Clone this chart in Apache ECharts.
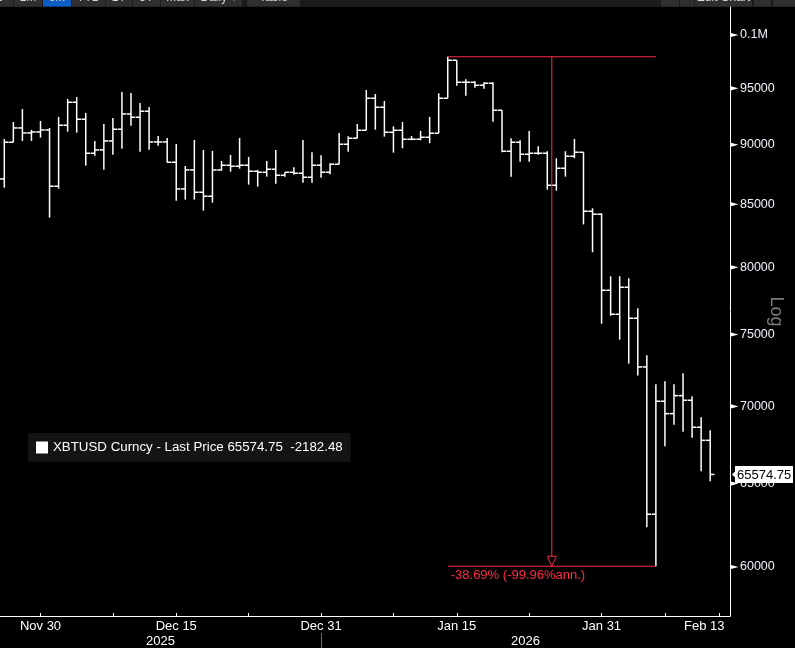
<!DOCTYPE html>
<html><head><meta charset="utf-8">
<script src="https://cdn.jsdelivr.net/npm/echarts@6/dist/echarts.min.js"></script>
<style>html,body{margin:0;padding:0;background:#000;overflow:hidden;} #c{width:795px;height:648px;}</style>
</head><body><div id="c"></div>
<script>
// ---- data (daily bars, Nov 26 2025 .. Feb 12 2026; axis runs to Feb 13) ----
const dates = [
 '2025-11-26','2025-11-27','2025-11-28','2025-11-29','2025-11-30',
 '2025-12-01','2025-12-02','2025-12-03','2025-12-04','2025-12-05','2025-12-06','2025-12-07','2025-12-08','2025-12-09','2025-12-10',
 '2025-12-11','2025-12-12','2025-12-13','2025-12-14','2025-12-15','2025-12-16','2025-12-17','2025-12-18','2025-12-19','2025-12-20',
 '2025-12-21','2025-12-22','2025-12-23','2025-12-24','2025-12-25','2025-12-26','2025-12-27','2025-12-28','2025-12-29','2025-12-30','2025-12-31',
 '2026-01-01','2026-01-02','2026-01-03','2026-01-04','2026-01-05','2026-01-06','2026-01-07','2026-01-08','2026-01-09','2026-01-10',
 '2026-01-11','2026-01-12','2026-01-13','2026-01-14','2026-01-15','2026-01-16','2026-01-17','2026-01-18','2026-01-19','2026-01-20',
 '2026-01-21','2026-01-22','2026-01-23','2026-01-24','2026-01-25','2026-01-26','2026-01-27','2026-01-28','2026-01-29','2026-01-30','2026-01-31',
 '2026-02-01','2026-02-02','2026-02-03','2026-02-04','2026-02-05','2026-02-06','2026-02-07','2026-02-08','2026-02-09','2026-02-10',
 '2026-02-11','2026-02-12','2026-02-13'
];
const opens = [87087,90210,91457,91019,91107,91282,86479,91695,93742,92225,
 89263,89546,90323,91343,92695,92402,92936,90236,90236,88494,
 86255,87843,85982,85652,87843,88240,88155,88240,87733,87649,
 87902,87397,87649,87565,87229,88240,87649,88325,90039,90557,
 91256,94103,93293,91081,91256,90471,90471,90644,90993,94103,
 97600,95560,95560,95285,95468,93025,89434,90210,89177,89263,
 89263,86562,87986,89006,89348,84427,84185,78260,76477,78486,
 76184,72704,63116,70349,69516,70728,70416,68614,67757.23];
const highs = [90497,91986,93141,91282,92074,91457,92429,94040,94221,92784,
 90323,91809,92340,94674,94583,93679,93320,90758,90583,90063,
 88181,90410,89546,89460,88605,89117,90583,88946,87843,88605,
 89546,87649,88071,90410,89348,89091,88410,91019,90731,91809,
 94856,94493,93860,91607,91986,90758,91194,92429,94556,97930,
 97600,95836,95652,95560,95560,93025,90557,90384,91194,89864,
 89434,88835,89434,90497,89348,84671,84265,79319,79319,79167,
 76919,73526,71507,71713,71507,72266,70687,69276,68417];
const lows = [86362,90210,90323,90323,90610,83910,86279,91133,91046,88206,
 89057,87868,89143,89658,91660,89400,89572,89916,88460,85291,
 85373,85373,84476,85127,87784,87699,87952,86612,86445,87279,
 86695,87279,87447,86778,86778,87196,87481,88325,89400,90557,
 91256,91308,90697,89314,89692,90384,90384,90124,90993,94103,
 95249,94338,95066,94975,92012,89348,87279,88545,88545,89143,
 86197,86114,87279,88835,83364,81168,75790,76375,74635,72935,
 72113,62333,60040,67374,68785,68325,67932,65776,65147];
const closes = [90210,91457,91019,91107,91282,86479,91695,93742,92225,89263,
 89546,90323,91343,92695,92402,92936,90236,90236,88494,86255,
 87843,85982,85652,87843,88240,88155,88240,87733,87649,87902,
 87397,87649,87565,87229,88240,87649,88325,90039,90557,91256,
 94103,93293,91081,91256,90471,90471,90644,90993,94103,97600,
 95560,95560,95285,95468,93025,89434,90210,89177,89263,89263,
 86562,87986,89006,89348,84427,84185,78260,76477,78486,76184,
 72704,63116,70349,69516,70728,70416,68614,67757.23,65574.75];
const yTickValues = [60000,65000,70000,75000,80000,85000,90000,95000,100000];
const xLabelDates = ['2025-11-30','2025-12-15','2025-12-31','2026-01-15','2026-01-31','2026-02-13'];
const xTickDates = ['2025-11-30','2025-12-08','2025-12-15','2025-12-23','2025-12-31','2026-01-08','2026-01-15','2026-01-23','2026-01-31','2026-02-07','2026-02-13'];
const yearSplitDate = '2025-12-31';
const seriesName = 'XBTUSD Curncy - Last Price';
const measureText = '-38.69% (-99.96%ann.)';

// ---- layout / config ----
const FONT = "'Liberation Sans', Arial, sans-serif";
const RED = '#ff2a44';
const X_MIN = -0.475, X_MAX = 80.19;
const Y_MIN = Math.log(57240), Y_MAX = Math.log(102720);
const MON = ['Jan','Feb','Mar','Apr','May','Jun','Jul','Aug','Sep','Oct','Nov','Dec'];
function fmtDate(s){ const p = s.split('-'); return MON[+p[1]-1] + ' ' + (+p[2]); }

const ohlcData = closes.map((c, i) => [i, Math.log(opens[i]), Math.log(highs[i]), Math.log(lows[i]), Math.log(c)]);
const xLabelIdx = xLabelDates.map(d => dates.indexOf(d));
const xTickIdx = xTickDates.map(d => dates.indexOf(d));
const splitIdx = dates.indexOf(yearSplitDate);
const lastIdxLabel = xLabelIdx[xLabelIdx.length - 1];
const last = closes[closes.length - 1];
const change = last - closes[closes.length - 2];

const hiIdx = highs.indexOf(Math.max(...highs));
const loIdx = lows.indexOf(Math.min(...lows));

function renderOHLC(params, api) {
  const i = api.value(0);
  const o = api.coord([i, api.value(1)]);
  const h = api.coord([i, api.value(2)]);
  const l = api.coord([i, api.value(3)]);
  const c = api.coord([i, api.value(4)]);
  const w = api.size([1, 0])[0] * 0.47;
  const x = o[0];
  const st = { stroke: '#ffffff', lineWidth: 1.5 };
  return { type: 'group', children: [
    { type: 'line', shape: { x1: x, y1: h[1], x2: x, y2: l[1] }, style: st },
    { type: 'line', shape: { x1: x - w, y1: o[1], x2: x, y2: o[1] }, style: st },
    { type: 'line', shape: { x1: x, y1: c[1], x2: x + w, y2: c[1] }, style: st }
  ]};
}

function renderMeasure(params, api) {
  const a = api.coord([api.value(0), api.value(2)]);
  const b = api.coord([api.value(1), api.value(2)]);
  const c = api.coord([api.value(0), api.value(3)]);
  const d = api.coord([api.value(1), api.value(3)]);
  const mx = (a[0] + b[0]) / 2;
  const by = c[1];
  return { type: 'group', children: [
    { type: 'line', shape: { x1: a[0], y1: a[1], x2: b[0], y2: b[1] }, style: { stroke: RED, lineWidth: 1.2 } },
    { type: 'line', shape: { x1: c[0], y1: c[1], x2: d[0], y2: d[1] }, style: { stroke: RED, lineWidth: 1.2 } },
    { type: 'line', shape: { x1: mx, y1: a[1], x2: mx, y2: by - 10 }, style: { stroke: RED, lineWidth: 1 } },
    { type: 'polygon', shape: { points: [[mx - 4.5, by - 10], [mx + 4.5, by - 10], [mx, by]] }, style: { stroke: RED, fill: 'none', lineWidth: 1 } },
    { type: 'text', x: c[0] + 3, y: by + 3, style: { text: measureText, fill: RED, font: '13px ' + FONT, textAlign: 'left', textVerticalAlign: 'top' } }
  ]};
}

function renderTickMark(params, api) {
  const p = api.coord([X_MAX, api.value(0)]);
  return { type: 'polygon', shape: { points: [[p[0], p[1] - 2.3], [p[0], p[1] + 2.3], [p[0] + 8.5, p[1]]] }, style: { fill: '#ffffff' } };
}

function renderLast(params, api) {
  const p = api.coord([X_MAX, api.value(0)]);
  const x0 = p[0] + 5, y0 = p[1];
  return { type: 'group', children: [
    { type: 'polygon', shape: { points: [[p[0] + 2, y0], [x0 + 1, y0 - 4], [x0 + 1, y0 + 4]] }, style: { fill: '#ffffff' } },
    { type: 'rect', shape: { x: x0, y: y0 - 8.5, width: 58, height: 17 }, style: { fill: '#ffffff' } },
    { type: 'text', x: x0 + 2, y: y0 + 0.5, style: { text: last.toFixed(2), fill: '#000', font: '13px ' + FONT, textAlign: 'left', textVerticalAlign: 'middle' } }
  ]};
}

// toolbar remnants at top (cut off)
const tb = [];
tb.push({ type: 'rect', shape: { x: 0, y: 0, width: 795, height: 7 }, style: { fill: '#1b1b1b' }, silent: true });
const btns = [[-20,13,'1D'],[14,42,'1M'],[43,71,'6M'],[72,105,'YTD'],[106,132,'1Y'],[133,160,'5Y'],[161,194,'Max'],[195,242,'Daily ▾'],[247,300,'Table']];
btns.forEach(b => {
  tb.push({ type: 'rect', shape: { x: b[0], y: 0, width: b[1] - b[0], height: 6.5 }, style: { fill: b[2] === '6M' ? '#0d5fc6' : '#2f2f2f' }, silent: true });
  tb.push({ type: 'text', x: (b[0] + b[1]) / 2, y: -8, style: { text: b[2], fill: '#d8d8d8', font: '12px ' + FONT, textAlign: 'center', textVerticalAlign: 'top' }, silent: true });
});
[[661,679,'«'],[680,694,''],[695,752,'Edit Chart'],[754,771,''],[773,795,'']].forEach(b => {
  tb.push({ type: 'rect', shape: { x: b[0], y: 0, width: b[1] - b[0], height: 6.5 }, style: { fill: '#2f2f2f' }, silent: true });
  if (b[2]) tb.push({ type: 'text', x: (b[0] + b[1]) / 2, y: -8, style: { text: b[2], fill: '#d8d8d8', font: '12px ' + FONT, textAlign: 'center', textVerticalAlign: 'top' }, silent: true });
});

const chart = echarts.init(document.getElementById('c'), null, { renderer: 'canvas' });
chart.setOption({
  backgroundColor: '#000000',
  animation: false,
  textStyle: { fontFamily: FONT },
  grid: { left: 0, right: 65, top: 7, bottom: 32, containLabel: false, outerBoundsMode: 'none' },
  legend: {
    left: 28, top: 433, icon: 'rect', itemWidth: 12, itemHeight: 12,
    backgroundColor: '#141414', borderRadius: 3, padding: [8, 8, 8, 8],
    selectedMode: false,
    textStyle: { color: '#ffffff', fontSize: 13.3, fontFamily: FONT },
    data: [seriesName],
    formatter: n => n + ' ' + last.toFixed(2) + '  ' + change.toFixed(2)
  },
  xAxis: [{
    type: 'value', min: X_MIN, max: X_MAX, position: 'bottom',
    splitLine: { show: false },
    axisLine: { show: true, onZero: false, lineStyle: { color: '#ffffff', width: 1 } },
    axisTick: { show: true, inside: true, length: 3, customValues: xTickIdx, lineStyle: { color: '#ffffff' } },
    axisLabel: {
      customValues: xLabelIdx, margin: 4, color: '#ffffff', fontSize: 13, fontFamily: FONT,
      formatter: v => { const s = fmtDate(dates[Math.round(v)]); return Math.round(v) === lastIdxLabel ? '{e|' + s + '}' : s; },
      rich: { e: { padding: [0, 30, 0, 0], color: '#ffffff', fontSize: 13, fontFamily: FONT } }
    }
  }, {
    type: 'value', min: X_MIN, max: X_MAX, position: 'bottom', offset: 17,
    splitLine: { show: false },
    axisLine: { show: false, onZero: false },
    axisTick: { show: true, inside: false, length: 17, customValues: [splitIdx], lineStyle: { color: '#6e6e6e' } },
    axisLabel: {
      customValues: [(X_MIN + splitIdx) / 2, (splitIdx + X_MAX) / 2], margin: 2, color: '#ffffff', fontSize: 13, fontFamily: FONT,
      formatter: v => (v < splitIdx ? dates[0] : dates[dates.length - 1]).slice(0, 4)
    }
  }],
  yAxis: {
    type: 'value', position: 'right', min: Y_MIN, max: Y_MAX,
    name: 'Log', nameLocation: 'middle', nameRotate: -90, nameGap: 37, nameMoveOverlap: false,
    nameTextStyle: { color: '#7a7a7a', fontSize: 18, fontFamily: FONT },
    splitLine: { show: false },
    axisLine: { show: true, onZero: false, lineStyle: { color: '#ffffff', width: 1 } },
    axisTick: { show: false },
    axisLabel: {
      customValues: yTickValues.map(v => Math.log(v)), margin: 10, color: '#eef3fa', fontSize: 12.5, fontFamily: FONT,
      formatter: v => { const n = Math.round(Math.exp(v)); return n >= 100000 ? (n / 1e6) + 'M' : String(n); }
    }
  },
  series: [{
    name: seriesName, type: 'custom', renderItem: renderOHLC, data: ohlcData,
    encode: { x: 0, y: [1, 2, 3, 4] }, itemStyle: { color: '#ffffff' }, clip: false, z: 3
  }, {
    name: 'measure', type: 'custom', renderItem: renderMeasure,
    data: [[hiIdx, loIdx, Math.log(highs[hiIdx]), Math.log(lows[loIdx])]],
    encode: { x: [0, 1], y: [2, 3] }, clip: false, z: 4
  }, {
    name: 'ticks', type: 'custom', renderItem: renderTickMark,
    data: yTickValues.map(v => [Math.log(v)]), encode: { y: 0 }, clip: false, z: 2
  }, {
    name: 'last', type: 'custom', renderItem: renderLast,
    data: [[Math.log(last)]], encode: { y: 0 }, clip: false, z: 5
  }],
  graphic: tb
});
</script>
</body></html>
